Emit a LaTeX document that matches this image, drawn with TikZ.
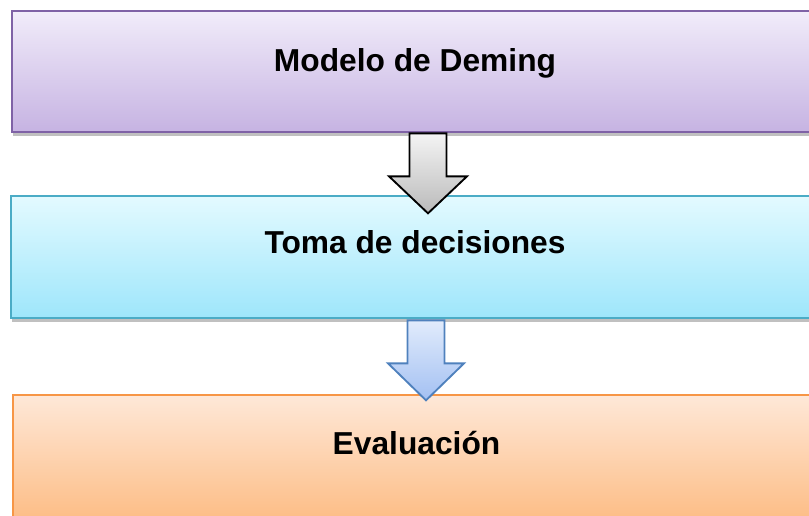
\documentclass[tikz,border=0pt]{standalone}
\usepackage{fontspec}
\setmainfont{Liberation Sans}
\usetikzlibrary{shadows}
\definecolor{purB}{HTML}{7F62A6}
\definecolor{purT}{HTML}{F1ECFA}
\definecolor{purD}{HTML}{C6B3E2}
\definecolor{cyaB}{HTML}{4BACC6}
\definecolor{cyaT}{HTML}{E3FAFF}
\definecolor{cyaD}{HTML}{9EE6FB}
\definecolor{orgB}{HTML}{F79646}
\definecolor{orgT}{HTML}{FEE8D8}
\definecolor{orgD}{HTML}{FDBB82}
\definecolor{gryT}{HTML}{F4F4F4}
\definecolor{gryD}{HTML}{BABABA}
\definecolor{bluB}{HTML}{4F81BD}
\definecolor{bluT}{HTML}{E2ECFC}
\definecolor{bluD}{HTML}{A3C0F2}
\tikzset{
  boxbase/.style={rectangle, inner sep=0pt, line width=2pt,
    drop shadow={shadow xshift=0.5pt, shadow yshift=-3pt, opacity=0.45, fill=black!55}},
  purbox/.style={boxbase, draw=purB, top color=purT, bottom color=purD},
  cyabox/.style={boxbase, draw=cyaB, top color=cyaT, bottom color=cyaD},
  orgbox/.style={boxbase, draw=orgB, top color=orgT, bottom color=orgD},
  lbl/.style={anchor=base, inner sep=0pt, font=\fontsize{23.8}{28}\selectfont\bfseries},
  grayarrow/.style={draw=black, line width=1.4pt, line join=miter, top color=gryT, bottom color=gryD},
  bluearrow/.style={draw=bluB, line width=1.4pt, line join=miter, top color=bluT, bottom color=bluD},
}
\begin{document}
\begin{tikzpicture}[x=0.75pt,y=-0.75pt]
\useasboundingbox (0,0) rectangle (809,516);
\clip (0,0) rectangle (809,516);
% boxes
\node[purbox, minimum width=600pt, minimum height=90.75pt] (b1) at (412,71.5) {};
\node[lbl] (t1) at (415,71.5) {Modelo de Deming};
\node[cyabox, minimum width=600.75pt, minimum height=91.5pt] (b2) at (411.5,257) {};
\node[lbl] (t2) at (415,254) {Toma de decisiones};
% gray arrow
\coordinate (a1) at (b1.south -| 428,0);
\path[grayarrow] (a1) ++(-18.5,0) -- ++(37,0) -- ++(0,43) -- ++(20.5,0)
  -- ++(-39,37) -- ++(-39,-37) -- ++(20.5,0) -- cycle;
\node[orgbox, minimum width=600pt, minimum height=97.5pt] (b3) at (413,460) {};
\node[lbl] (t3) at (416.5,454) {Evaluación};
% blue arrow
\coordinate (a2) at (b2.south -| 426,0);
\path[bluearrow] (a2) ++(-18.5,1) -- ++(37,0) -- ++(0,43) -- ++(19.5,0)
  -- ++(-38,37) -- ++(-38,-37) -- ++(19.5,0) -- cycle;
\end{tikzpicture}
\end{document}
